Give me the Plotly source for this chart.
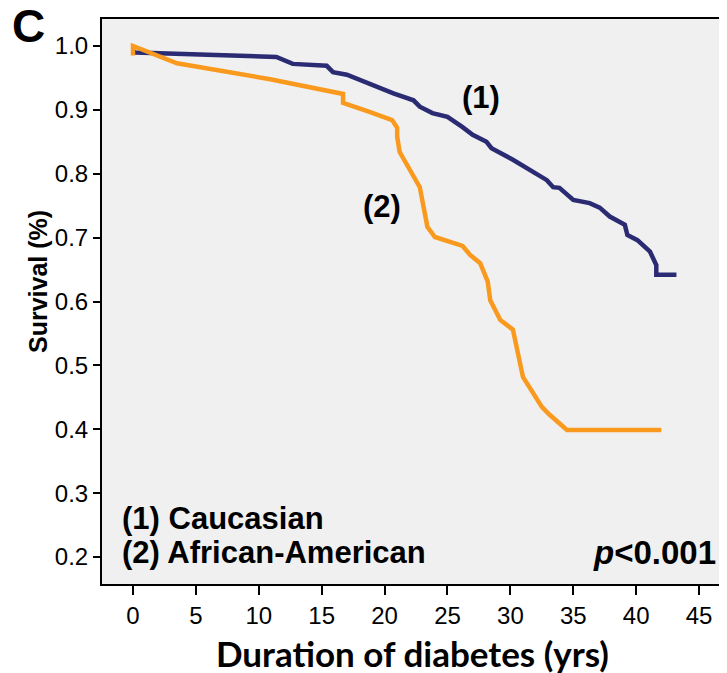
import plotly.graph_objects as go

# Caucasian (1)
cau_x = [0, 0.2, 11.4, 12.7, 15.4, 15.9, 17.0, 18.6, 19.4, 20.7, 22.3, 22.8, 23.8, 25.0, 26.2, 27.0,
         28.1, 28.5, 30.2, 31.3, 32.9, 33.4, 33.9, 35.0, 36.3, 37.1, 37.9, 39.1, 39.3, 40.1, 41.1,
         41.6, 41.6, 43.2]
cau_y = [0.992, 0.990, 0.983, 0.972, 0.969, 0.959, 0.955, 0.942, 0.936, 0.926, 0.915, 0.905, 0.895,
         0.889, 0.873, 0.861, 0.850, 0.840, 0.822, 0.809, 0.790, 0.779, 0.778, 0.759, 0.754, 0.747,
         0.733, 0.720, 0.704, 0.696, 0.678, 0.657, 0.642, 0.642]

# African-American (2)
afr_x = [0, 0, 3.5, 10.9, 16.7, 16.7, 18.8, 20.6, 21.0, 21.0, 21.2, 21.8, 22.8, 23.4, 24.0, 26.2,
         26.8, 27.6, 28.2, 28.4, 29.2, 30.2, 30.8, 31.0, 32.5, 33.1, 34.5, 42.0]
afr_y = [0.985, 1.0, 0.973, 0.948, 0.925, 0.911, 0.897, 0.884, 0.872, 0.858, 0.834, 0.814, 0.779,
         0.717, 0.701, 0.687, 0.673, 0.660, 0.631, 0.602, 0.571, 0.556, 0.504, 0.482, 0.435, 0.423,
         0.399, 0.399]

x_ticks = [0, 5, 10, 15, 20, 25, 30, 35, 40, 45]
y_ticks = [0.2, 0.3, 0.4, 0.5, 0.6, 0.7, 0.8, 0.9, 1.0]
y_tick_text = ["0.2", "0.3", "0.4", "0.5", "0.6", "0.7", "0.8", "0.9", "1.0"]

NAVY = "#2a2b73"
ORANGE = "#f99a1f"

fig = go.Figure()
fig.add_trace(go.Scatter(x=cau_x, y=cau_y, mode="lines",
                         line=dict(color=NAVY, width=4.5), showlegend=False))
fig.add_trace(go.Scatter(x=afr_x, y=afr_y, mode="lines",
                         line=dict(color=ORANGE, width=4.5), showlegend=False))

SANS = "Liberation Sans"
ax_font = dict(family=SANS, size=24, color="black")

# page body has an 8px margin: figure drawn at (8, 8)
fig.update_layout(
    width=719, height=665,
    margin=dict(l=94, r=0, t=11, b=89),
    paper_bgcolor="white",
    plot_bgcolor="#f0f0f0",
    xaxis=dict(range=[-2.464, 47.22], tickvals=x_ticks, ticks="outside", ticklen=9,
               tickwidth=1.5, tickcolor="black", showline=True, linecolor="black",
               linewidth=2, mirror=True, showgrid=False, zeroline=False, tickfont=ax_font),
    yaxis=dict(range=[0.1577, 1.0423], tickvals=y_ticks, ticktext=y_tick_text,
               ticks="outside", ticklen=7, tickwidth=1.5, tickcolor="black",
               showline=True, linecolor="black", linewidth=2, showgrid=False,
               zeroline=False, tickfont=ax_font),
)

anns = [
    dict(text="<b>C</b>", x=28, y=26, font=dict(family=SANS, size=46)),
    dict(text="<b>Survival (%)</b>", x=38, y=282, textangle=-90, font=dict(family=SANS, size=25)),
    dict(text="<b>Duration of diabetes (yrs)</b>", x=412, y=653,
         font=dict(family="Lato", size=35)),
]
for a in anns:
    fig.add_annotation(text=a["text"], xref="paper", yref="paper",
                       x=(a["x"] - 102) / 625, y=1 - (a["y"] - 19) / 565,
                       xanchor="center", yanchor="middle", showarrow=False,
                       textangle=a.get("textangle", 0), font=dict(color="black", **a["font"]))

lab_font = dict(family=SANS, size=31, color="black")
fig.add_annotation(text="<b>(1)</b>", x=27.7, y=0.92, showarrow=False, font=lab_font,
                   xanchor="center", yanchor="middle")
fig.add_annotation(text="<b>(2)</b>", x=19.8, y=0.748, showarrow=False, font=lab_font,
                   xanchor="center", yanchor="middle")
fig.add_annotation(text="<b>(1) Caucasian</b>", x=-1.03, y=0.261, showarrow=False,
                   font=lab_font, xanchor="left", yanchor="middle")
fig.add_annotation(text="<b>(2) African-American</b>", x=-1.03, y=0.2066, showarrow=False,
                   font=lab_font, xanchor="left", yanchor="middle")
fig.add_annotation(text="<b><i>p</i>&lt;0.001</b>", x=46.5, y=0.2066, showarrow=False,
                   font=dict(family=SANS, size=33, color="black"),
                   xanchor="right", yanchor="middle")

fig.write_html("out.html")
